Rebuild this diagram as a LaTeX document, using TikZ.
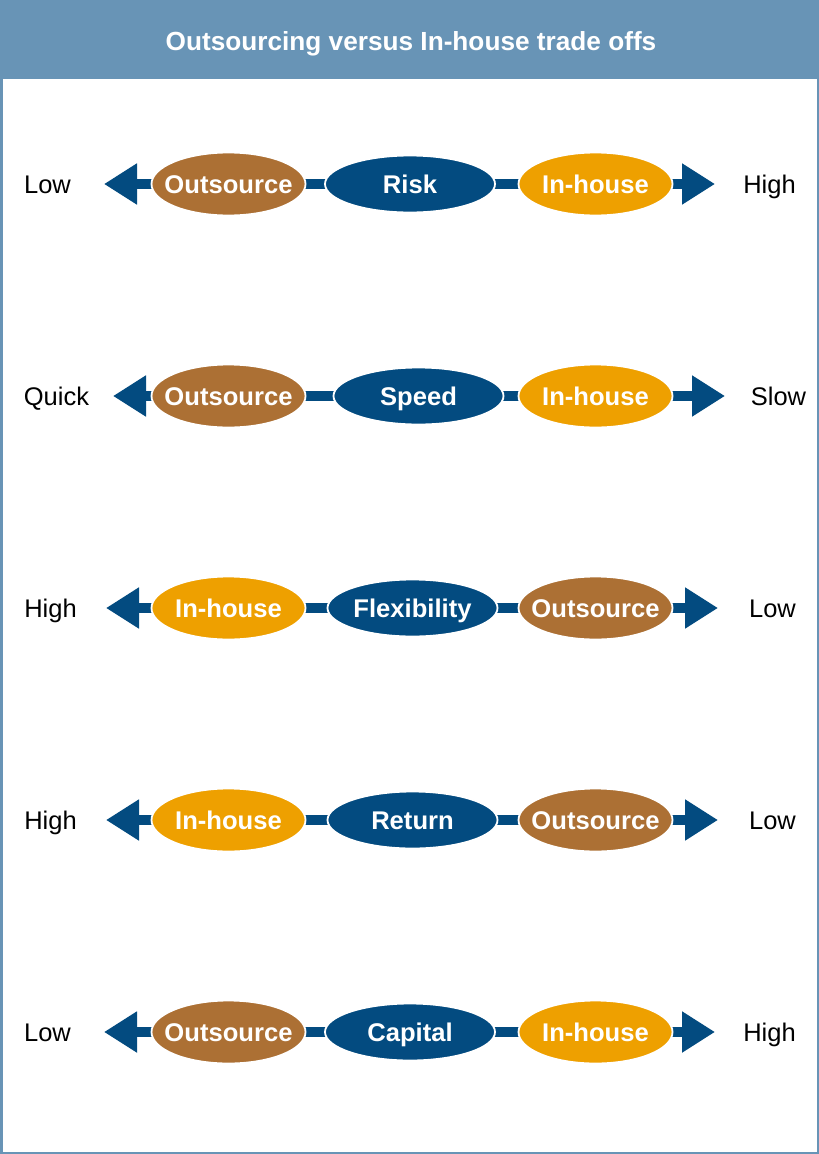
\documentclass[tikz,border=0pt]{standalone}
\usepackage{fontspec}
\setmainfont{Liberation Sans}
\usetikzlibrary{shapes.geometric,arrows.meta}
\definecolor{barblue}{HTML}{6894B6}
\definecolor{darkblue}{HTML}{034B80}
\definecolor{brownc}{HTML}{AC7034}
\definecolor{orangec}{HTML}{EEA000}
\newcommand\ctext[1]{\smash{\makebox[0pt]{\raisebox{-.358em}{#1}}}}
\begin{document}
\begin{tikzpicture}[x=1pt,y=-1pt,
  oval/.style={ellipse, draw=white, line width=1.8pt, inner sep=0pt, text=white, font=\fontsize{25.6}{28}\selectfont\bfseries},
  outs/.style={oval, fill=brownc, minimum width=154pt, minimum height=63pt},
  inh/.style={oval, fill=orangec, minimum width=154pt, minimum height=63pt},
  mid/.style={oval, fill=darkblue, minimum width=170pt, minimum height=57pt},
  shaft/.style={draw=darkblue, line width=10pt, {Triangle[length=33pt,width=39pt]}-{Triangle[length=33pt,width=39pt]}},
  side/.style={font=\fontsize{25.5}{28}\selectfont, inner sep=0pt, text=black}]
\useasboundingbox (0,0) rectangle (819,1154);
\fill[white] (0,0) rectangle (819,1154);
\fill[barblue] (0,0) rectangle (819,79);
\draw[barblue, line width=2.5pt] (1.25,1.25) rectangle (817.75,1152.75);
\node[font=\fontsize{26.2}{28}\selectfont\bfseries, text=white, inner sep=0pt] (title) at (411,41) {\ctext{Outsourcing versus In-house trade offs}};

% Row 1
\coordinate (l1) at (104,184); \coordinate (r1) at (715,184);
\draw[shaft] (l1) -- (r1);
\node[outs] (a1) at (228.5,184) {\ctext{Outsource}};
\node[mid] (b1) at (410,184) {\ctext{Risk}};
\node[inh] (c1) at (595.5,184) {\ctext{In-house}};
\node[side] (ll1) at (47.5,184) {\ctext{Low}};
\node[side] (rl1) at (769.5,184) {\ctext{High}};

% Row 2
\coordinate (l2) at (113,396); \coordinate (r2) at (725,396);
\draw[shaft] (l2) -- (r2);
\node[outs] (a2) at (228.5,396) {\ctext{Outsource}};
\node[mid] (b2) at (418.5,396) {\ctext{Speed}};
\node[inh] (c2) at (595.5,396) {\ctext{In-house}};
\node[side] (ll2) at (56.5,396) {\ctext{Quick}};
\node[side] (rl2) at (778.5,396) {\ctext{Slow}};

% Row 3
\coordinate (l3) at (106,608); \coordinate (r3) at (718,608);
\draw[shaft] (l3) -- (r3);
\node[inh] (a3) at (228.5,608) {\ctext{In-house}};
\node[mid] (b3) at (412.5,608) {\ctext{Flexibility}};
\node[outs] (c3) at (595.5,608) {\ctext{Outsource}};
\node[side] (ll3) at (50.5,608) {\ctext{High}};
\node[side] (rl3) at (772.5,608) {\ctext{Low}};

% Row 4
\coordinate (l4) at (106,820); \coordinate (r4) at (718,820);
\draw[shaft] (l4) -- (r4);
\node[inh] (a4) at (228.5,820) {\ctext{In-house}};
\node[mid] (b4) at (412.5,820) {\ctext{Return}};
\node[outs] (c4) at (595.5,820) {\ctext{Outsource}};
\node[side] (ll4) at (50.5,820) {\ctext{High}};
\node[side] (rl4) at (772.5,820) {\ctext{Low}};

% Row 5
\coordinate (l5) at (104,1032); \coordinate (r5) at (715,1032);
\draw[shaft] (l5) -- (r5);
\node[outs] (a5) at (228.5,1032) {\ctext{Outsource}};
\node[mid] (b5) at (410,1032) {\ctext{Capital}};
\node[inh] (c5) at (595.5,1032) {\ctext{In-house}};
\node[side] (ll5) at (47.5,1032) {\ctext{Low}};
\node[side] (rl5) at (769.5,1032) {\ctext{High}};
\end{tikzpicture}
\end{document}
